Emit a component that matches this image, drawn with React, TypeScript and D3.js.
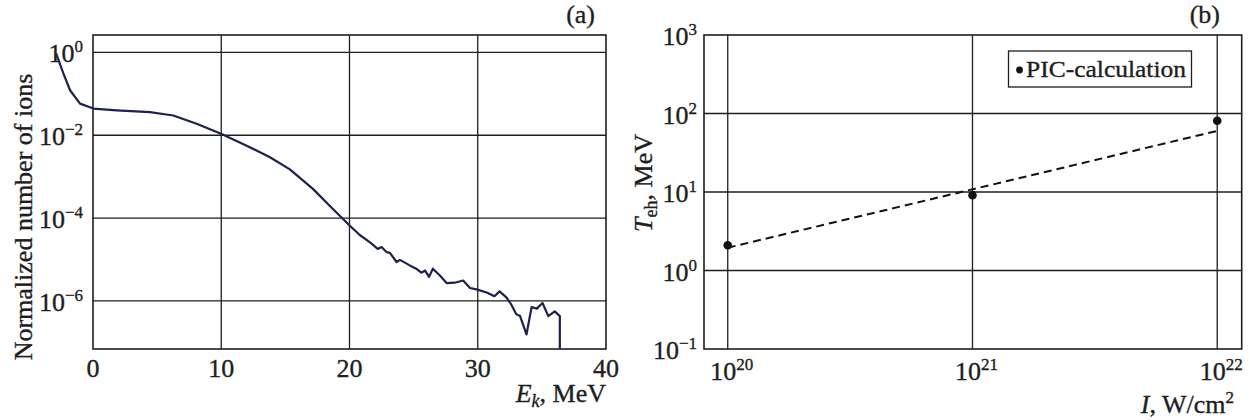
import { useEffect, useRef } from 'react';
import * as d3 from 'd3';

// panel (a): ion spectrum
const energyMeV = [-2.88, -2.31, -1.79, -1.01, 0.02, 1.85, 4.44, 6.26, 8.08, 10.03, 11.98, 13.8, 15.35, 17.17, 18.47, 20.03, 20.8, 21.6, 22.2, 22.5, 22.9, 23.15, 23.67, 23.93, 24.7, 25.2, 25.6, 25.9, 26.2, 26.5, 27.05, 27.57, 28.2, 28.86, 29.4, 29.9, 30.7, 31.3, 31.7, 32.25, 32.6, 33.0, 33.3, 33.8, 34.2, 34.6, 35.05, 35.5, 36.0, 36.4, 36.4];
const ionCount = [0.95, 0.31, 0.122, 0.058, 0.044, 0.040, 0.036, 0.030, 0.019, 0.0107, 5.6e-3, 2.95e-3, 1.5e-3, 5.0e-4, 1.95e-4, 6.5e-5, 3.9e-5, 2.6e-5, 1.8e-5, 2.0e-5, 1.5e-5, 1.45e-5, 8.7e-6, 9.8e-6, 7.2e-6, 6.0e-6, 4.8e-6, 5.4e-6, 3.8e-6, 6.0e-6, 4.1e-6, 2.7e-6, 2.75e-6, 3.1e-6, 2.05e-6, 1.9e-6, 1.6e-6, 1.3e-6, 1.7e-6, 1.2e-6, 8.3e-7, 4.8e-7, 4.3e-7, 1.55e-7, 7.1e-7, 6.5e-7, 8.9e-7, 4.3e-7, 5.6e-7, 4.3e-7, 6.9e-8];
const aXTicks = [0, 10, 20, 30, 40];
const aYExp = [0, -2, -4, -6];

// panel (b): hot electron temperature
const intensity = [1e20, 1e21, 1e22];
const tempPIC = [2.1, 9.1, 81];
const fitI = [1e20, 1e22];
const fitT = [1.95, 60];
const bXExp = [20, 21, 22];
const bYExp = [-1, 0, 1, 2, 3];

const FONT = "'Liberation Serif', 'Times New Roman', Times, serif";
const INK = '#1e1e1e';
const FS = 26;

const App = () => {
  const ref = useRef(null);

  useEffect(() => {
    d3.select(ref.current).selectAll('svg').remove();

    const svg = d3.select(ref.current)
      .append('svg')
      .attr('width', 1250)
      .attr('height', 420)
      .style('position', 'absolute')
      .style('left', 0)
      .style('top', 0)
      .style('background', '#fff');

    // all labels share the same serif look; a hairline stroke thickens them like the print
    const text = (g, x, y, anchor, size = FS) =>
      g.append('text').attr('x', x).attr('y', y).attr('text-anchor', anchor)
        .style('font-family', FONT)
        .attr('font-size', size).attr('fill', INK)
        .attr('stroke', INK).attr('stroke-width', 0.35);

    const pow = (sel, exp) => {
      sel.append('tspan').text('10');
      sel.append('tspan').attr('dy', -10).attr('font-size', 17).text(exp);
    };

    // ---------- panel (a) ----------
    const xa = d3.scaleLinear().domain([0, 40]).range([93, 606]);
    const ya = d3.scaleLog().domain([6.9e-8, 2.63]).range([349, 35]);
    const ga = svg.append('g');

    aXTicks.slice(1, -1).forEach(t => {
      ga.append('line').attr('x1', xa(t)).attr('x2', xa(t)).attr('y1', 35).attr('y2', 349)
        .attr('stroke', INK).attr('stroke-width', 1.3);
    });
    aYExp.forEach(e => {
      ga.append('line').attr('x1', 93).attr('x2', 606).attr('y1', ya(10 ** e)).attr('y2', ya(10 ** e))
        .attr('stroke', INK).attr('stroke-width', 1.3);
    });
    ga.append('rect').attr('x', 93).attr('y', 35).attr('width', 513).attr('height', 314)
      .attr('fill', 'none').attr('stroke', INK).attr('stroke-width', 1.6);

    aXTicks.forEach(t => {
      text(ga, xa(t), 377, 'middle').text(t);
    });
    aYExp.forEach(e => {
      pow(text(ga, 83, ya(10 ** e) + 10, 'end'), e < 0 ? `\u2212${-e}` : `${e}`);
    });

    const lineA = d3.line().x(d => xa(d[0])).y(d => ya(d[1]));
    ga.append('path')
      .datum(energyMeV.map((e, i) => [e, ionCount[i]]))
      .attr('fill', 'none').attr('stroke', '#1c2150').attr('stroke-width', 2.2)
      .attr('stroke-linejoin', 'round').attr('d', lineA);

    text(ga, 595, 23, 'end').text('(a)');

    text(ga, 0, 0, 'middle').attr('transform', 'translate(32,217) rotate(-90)')
      .text('Normalized number of ions');

    const xla = text(ga, 606, 402, 'end');
    xla.append('tspan').attr('font-style', 'italic').text('E');
    xla.append('tspan').attr('font-style', 'italic').attr('font-size', 18).attr('dy', 5).text('k');
    xla.append('tspan').attr('dy', -5).text(', MeV');

    // ---------- panel (b) ----------
    const xb = d3.scaleLog().domain([10 ** 19.903, 10 ** 22.1]).range([704, 1241.7]);
    const yb = d3.scaleLog().domain([0.1, 1000]).range([349, 35]);
    const gb = svg.append('g');

    bXExp.forEach(e => {
      gb.append('line').attr('x1', xb(10 ** e)).attr('x2', xb(10 ** e)).attr('y1', 35).attr('y2', 349)
        .attr('stroke', INK).attr('stroke-width', 1.3);
    });
    bYExp.slice(1, -1).forEach(e => {
      gb.append('line').attr('x1', 704).attr('x2', 1241.7).attr('y1', yb(10 ** e)).attr('y2', yb(10 ** e))
        .attr('stroke', INK).attr('stroke-width', 1.3);
    });
    gb.append('rect').attr('x', 704).attr('y', 35).attr('width', 537.7).attr('height', 314)
      .attr('fill', 'none').attr('stroke', INK).attr('stroke-width', 1.6);

    bXExp.forEach(e => {
      pow(text(gb, xb(10 ** e) + 4, 380, 'middle'), `${e}`);
    });
    bYExp.forEach(e => {
      pow(text(gb, 697, yb(10 ** e) + 10, 'end'), e < 0 ? `\u2212${-e}` : `${e}`);
    });

    const lineB = d3.line().x(d => xb(d[0])).y(d => yb(d[1]));
    gb.append('path')
      .datum(fitI.map((v, i) => [v, fitT[i]]))
      .attr('fill', 'none').attr('stroke', '#111').attr('stroke-width', 2)
      .attr('stroke-dasharray', '8,5').attr('d', lineB);

    intensity.forEach((v, i) => {
      gb.append('circle').attr('cx', xb(v)).attr('cy', yb(tempPIC[i])).attr('r', 4.3).attr('fill', '#111');
    });

    // legend
    gb.append('rect').attr('x', 1008.5).attr('y', 51).attr('width', 183).attr('height', 36)
      .attr('fill', '#fff').attr('stroke', INK).attr('stroke-width', 1.3);
    gb.append('circle').attr('cx', 1019.5).attr('cy', 70).attr('r', 3.4).attr('fill', '#111');
    text(gb, 1026, 77, 'start', 24)
      .attr('textLength', 160).attr('lengthAdjust', 'spacingAndGlyphs').text('PIC-calculation');

    text(gb, 1220, 23, 'end').text('(b)');

    const yl = text(gb, 0, 0, 'middle').attr('transform', 'translate(652,183) rotate(-90)');
    yl.append('tspan').attr('font-style', 'italic').text('T');
    yl.append('tspan').attr('font-size', 18).attr('dy', 5).text('eh');
    yl.append('tspan').attr('dy', -5).text(', MeV');

    const xlb = text(gb, 1234, 413, 'end');
    xlb.append('tspan').attr('font-style', 'italic').text('I');
    xlb.append('tspan').text(', W/cm');
    xlb.append('tspan').attr('dy', -10).attr('font-size', 17).text('2');
  }, []);

  return <div ref={ref}></div>;
};

export default App;
